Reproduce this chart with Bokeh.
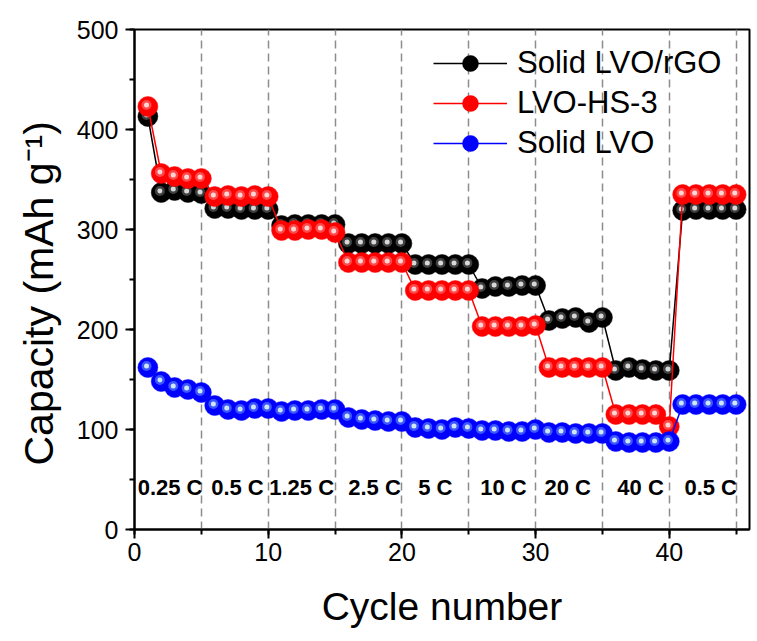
from bokeh.plotting import figure
from bokeh.models import (Range1d, SingleIntervalTicker, FixedTicker, Legend, LegendItem,
                          ColumnDataSource, LabelSet, Title)
from bokeh.core.properties import value
from bokeh.embed import file_html
from bokeh.resources import INLINE

# ---------------- data ----------------
cycles = list(range(1, 46))

solid_lvo_rgo = [413, 337, 339, 337, 336,
                 321, 321, 320, 320, 320,
                 304, 305, 305, 305, 305,
                 286, 286, 286, 286, 286,
                 265, 265, 265, 265, 265,
                 241, 243, 243, 244, 244,
                 209, 211, 212, 207, 212,
                 159, 162, 160, 159, 159,
                 319, 320, 320, 320, 320]

lvo_hs3 = [423, 356, 353, 351, 351,
           333, 334, 333, 334, 333,
           299, 299, 300, 300, 297,
           267, 267, 267, 267, 267,
           239, 239, 239, 239, 239,
           203, 203, 203, 203, 204,
           162, 162, 162, 162, 162,
           115, 115, 115, 115, 103,
           335, 335, 335, 335, 335]

solid_lvo = [162, 148, 142, 140, 137,
             124, 120, 119, 121, 121,
             118, 119, 119, 120, 120,
             112, 110, 109, 108, 108,
             102, 101, 100, 102, 101,
             99, 99, 98, 98, 100,
             97, 97, 96, 96, 96,
             88, 87, 87, 87, 88,
             125, 125, 125, 125, 125]

rate_labels = ["0.25 C", "0.5 C", "1.25 C", "2.5 C", "5 C", "10 C", "20 C", "40 C", "0.5 C"]
rate_label_x = [2.66, 7.7, 12.5, 17.95, 22.5, 27.6, 32.4, 37.85, 43.1]
rate_label_y = [42] * len(rate_labels)
segment_bounds = [5, 10, 15, 20, 25, 30, 35, 40, 45]

series_names = ["Solid LVO/rGO", "LVO-HS-3", "Solid LVO"]
series_values = [solid_lvo_rgo, lvo_hs3, solid_lvo]
series_colors = ["#000000", "#ff0000", "#0000ff"]
mid_colors = ["#505050", "#ff5a5a", "#4a6cff"]
hi_colors = ["#d8d8d8", "#ffd6d6", "#cfe6f2"]

FONT = "Liberation Sans"

p = figure(width=757, height=641, output_backend="svg", toolbar_location=None,
           x_range=Range1d(0, 46), y_range=Range1d(0, 500),
           min_border_left=134, min_border_right=8, min_border_top=29, min_border_bottom=112)
p.background_fill_color = "white"
p.border_fill_color = "white"
p.outline_line_color = "black"
p.outline_line_width = 2

# grid: dashed vertical separators at rate changes
p.ygrid.visible = False
p.xgrid.ticker = FixedTicker(ticks=segment_bounds)
p.xgrid.grid_line_color = "#8c8c8c"
p.xgrid.grid_line_dash = "8 5"
p.xgrid.grid_line_width = 1.5

# axes
p.xaxis.ticker = SingleIntervalTicker(interval=10, num_minor_ticks=2)
p.yaxis.ticker = SingleIntervalTicker(interval=100, num_minor_ticks=2)
for ax in (p.xaxis[0], p.yaxis[0]):
    ax.axis_line_width = 2
    ax.major_tick_line_width = 2
    ax.minor_tick_line_width = 2
    ax.major_tick_in = 0
    ax.major_tick_out = 9
    ax.minor_tick_in = 0
    ax.minor_tick_out = 5
    ax.major_label_text_font = FONT
    ax.major_label_text_font_size = "25px"
    ax.major_label_text_color = "black"
    ax.axis_label_text_font = FONT
    ax.axis_label_text_font_size = "39px"
    ax.axis_label_text_font_style = "normal"
    ax.axis_label_text_color = "black"
p.xaxis.axis_label = "Cycle number"
p.xaxis.major_label_standoff = 4
p.yaxis.major_label_standoff = 7
p.xaxis.axis_label_standoff = 21

# y axis title (starts near the bottom like the reference)
ytitle = Title(text="Capacity (mAh g\u207b\u00b9)", align="left", offset=64,
               text_font=FONT, text_font_size="41px", text_font_style="normal",
               text_color="black", standoff=24)
p.add_layout(ytitle, "left")

# series
legend_items = []
for name, vals, col, mid, hi in zip(series_names, series_values, series_colors, mid_colors, hi_colors):
    src = ColumnDataSource(dict(x=cycles, y=vals,
                                hx=[c - 0.1 for c in cycles], hy=[v + 1.5 for v in vals]))
    ln = p.line("x", "y", source=src, line_color=col, line_width=1.5)
    base = p.scatter("x", "y", source=src, size=20, fill_color=col, line_color=col, line_width=0.5)
    p.scatter("hx", "hy", source=src, size=10, fill_color=mid, line_color=None, fill_alpha=0.8)
    p.scatter("hx", "hy", source=src, size=5, fill_color=hi, line_color=None)
    legend_items.append(LegendItem(label=name, renderers=[ln, base]))

legend = Legend(items=legend_items, location=(299, 366))
legend.glyph_width = 74
legend.glyph_height = 40
legend.spacing = 0
legend.padding = 0
legend.margin = 0
legend.label_standoff = 10
legend.label_text_font = FONT
legend.label_text_font_size = "31px"
legend.label_text_color = "black"
legend.border_line_color = None
legend.background_fill_alpha = 0
p.add_layout(legend)

# rate labels
lab_src = ColumnDataSource(dict(x=rate_label_x, y=rate_label_y, t=rate_labels))
p.add_layout(LabelSet(x="x", y="y", text="t", source=lab_src, text_align="center",
                      text_baseline="middle", text_font=value(FONT), text_font_size=value("22px"),
                      text_font_style="bold", text_color="black"))

open("out.html", "w").write(file_html(p, INLINE))
